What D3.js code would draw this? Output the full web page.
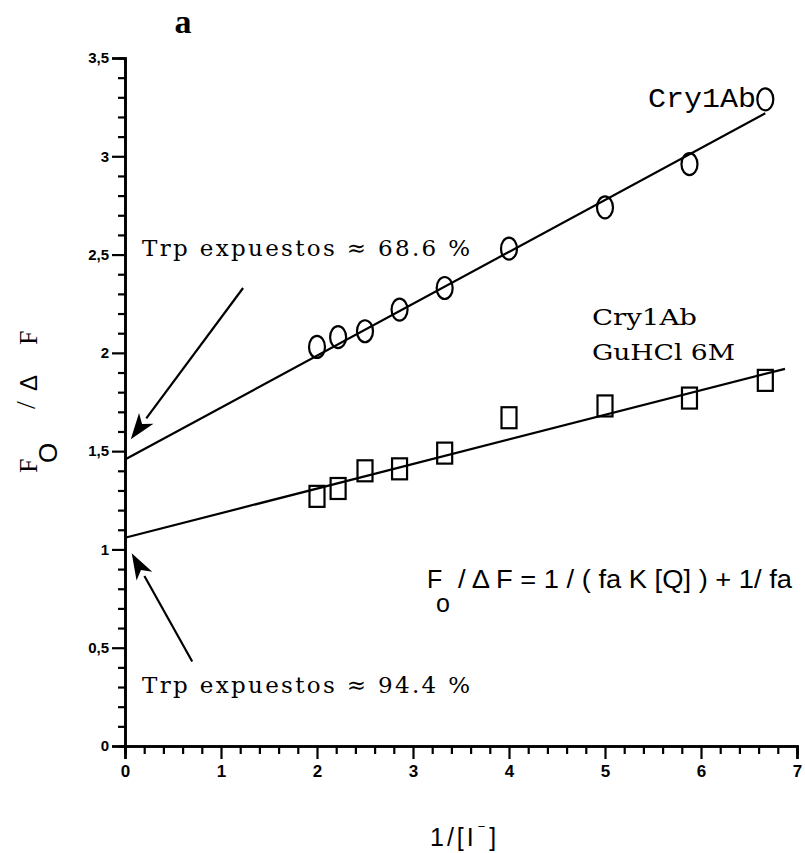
<!DOCTYPE html>
<html>
<head>
<meta charset="utf-8">
<script src="https://cdn.jsdelivr.net/npm/d3@7"></script>
<style>
  html, body { margin: 0; padding: 0; background: #fff; }
  svg { display: block; }
</style>
</head>
<body>
<svg id="chart" width="805" height="853"></svg>
<script>
// Stern–Volmer (modified) plot data: 1/[I-] vs F0/ΔF
const xValues = [2, 2.22, 2.5, 2.86, 3.33, 4, 5, 5.88, 6.67];
const nativeValues = [2.03, 2.08, 2.11, 2.22, 2.33, 2.53, 2.74, 2.96, 3.29];   // Cry1Ab
const denaturedValues = [1.27, 1.31, 1.40, 1.41, 1.49, 1.67, 1.73, 1.77, 1.86]; // Cry1Ab GuHCl 6M

// Fitted lines: intercept = 1/fa
const nativeFa = 0.686;
const denaturedFa = 0.944;
const nativeSlope = 0.264;
const denaturedSlope = 0.125;
const nativeFitEnd = 6.67;
const denaturedFitEnd = 6.875;

const xTicks = [0, 1, 2, 3, 4, 5, 6, 7];
const yTicks = [0, 0.5, 1, 1.5, 2, 2.5, 3, 3.5];
const yTickLabels = ["0", "0,5", "1", "1,5", "2", "2,5", "3", "3,5"];

const svg = d3.select("#chart");
const x = d3.scaleLinear().domain([0, 7]).range([125, 797]);
const y = d3.scaleLinear().domain([0, 3.5]).range([746, 58]);

const ink = "#000";
const serif = "'DejaVu Serif', 'Liberation Serif', serif";
const times = "'Liberation Serif', serif";
const sans = "'Liberation Sans', Arial, sans-serif";

// ---- axes ----
const xAxis = d3.axisBottom(x)
  .tickValues(xTicks)
  .tickFormat(d3.format("d"))
  .tickSize(13)
  .tickPadding(4);
const xMinor = d3.axisBottom(x)
  .tickValues(d3.range(0, 7.001, 0.2).filter(v => Math.abs(v - Math.round(v)) > 1e-6))
  .tickFormat("")
  .tickSize(8);

const yAxis = d3.axisLeft(y)
  .tickValues(yTicks)
  .tickFormat((d, i) => yTickLabels[i])
  .tickSize(13)
  .tickPadding(3);
const yMinor = d3.axisLeft(y)
  .tickValues(d3.range(0, 3.501, 0.1).filter(v => Math.abs(v * 2 - Math.round(v * 2)) > 1e-6))
  .tickFormat("")
  .tickSize(7);

function styleAxis(g, size) {
  g.select(".domain").attr("stroke", ink).attr("stroke-width", 2.6);
  g.selectAll(".tick line").attr("stroke", ink).attr("stroke-width", 2.2);
  g.selectAll(".tick text")
    .attr("fill", ink)
    .attr("font-family", sans)
    .attr("font-weight", "bold")
    .attr("font-size", size || 14);
}

svg.append("g").attr("transform", `translate(0,${y(0)})`).call(xMinor).call(styleAxis);
svg.append("g").attr("transform", `translate(0,${y(0)})`).call(xAxis).call(styleAxis, 17)
  .selectAll(".tick text").attr("dy", "0.85em");
svg.append("g").attr("transform", `translate(${x(0)},0)`).call(yMinor).call(styleAxis);
svg.append("g").attr("transform", `translate(${x(0)},0)`).call(yAxis).call(styleAxis, 15);

// ---- fitted lines ----
const fitLines = [
  { a: 1 / nativeFa, b: nativeSlope, end: nativeFitEnd },
  { a: 1 / denaturedFa, b: denaturedSlope, end: denaturedFitEnd }
];
svg.selectAll("line.fit").data(fitLines).enter().append("line")
  .attr("class", "fit")
  .attr("x1", x(0)).attr("y1", d => y(d.a))
  .attr("x2", d => x(d.end)).attr("y2", d => y(d.a + d.b * d.end))
  .attr("stroke", ink).attr("stroke-width", 2.2);

// ---- markers ----
svg.selectAll("ellipse.native").data(xValues).enter().append("ellipse")
  .attr("class", "native")
  .attr("cx", d => x(d)).attr("cy", (d, i) => y(nativeValues[i]))
  .attr("rx", 8).attr("ry", 11)
  .attr("fill", "none").attr("stroke", ink).attr("stroke-width", 2.2);

svg.selectAll("rect.denat").data(xValues).enter().append("rect")
  .attr("class", "denat")
  .attr("x", d => x(d) - 7.5).attr("y", (d, i) => y(denaturedValues[i]) - 10.5)
  .attr("width", 15).attr("height", 21)
  .attr("fill", "none").attr("stroke", ink).attr("stroke-width", 2.2);

// ---- arrows ----
const arrows = [
  { from: [1.23, 2.33], to: [0.06, 1.56] },
  { from: [0.70, 0.43], to: [0.07, 0.98] }
];
arrows.forEach(a => {
  const x1 = x(a.from[0]), y1 = y(a.from[1]);
  const x2 = x(a.to[0]), y2 = y(a.to[1]);
  const ang = Math.atan2(y2 - y1, x2 - x1);
  const hl = 26, hw = 9;
  const bx = x2 - hl * Math.cos(ang), by = y2 - hl * Math.sin(ang);
  svg.append("line")
    .attr("x1", x1).attr("y1", y1).attr("x2", bx).attr("y2", by)
    .attr("stroke", ink).attr("stroke-width", 2.2);
  const px = -Math.sin(ang), py = Math.cos(ang);
  svg.append("path")
    .attr("d", `M${x2},${y2}L${bx + hw * px},${by + hw * py}L${bx + 7 * Math.cos(ang)},${by + 7 * Math.sin(ang)}L${bx - hw * px},${by - hw * py}Z`)
    .attr("fill", ink);
});

// ---- text ----
svg.append("text").attr("x", 183).attr("y", 33)
  .attr("font-family", times).attr("font-weight", "bold")
  .attr("font-size", 34).attr("text-anchor", "middle").text("a");

svg.append("text").attr("x", 648).attr("y", 107)
  .attr("font-family", "'Liberation Mono', monospace").attr("font-size", 27)
  .attr("textLength", 108).attr("lengthAdjust", "spacingAndGlyphs")
  .text("Cry1Ab");

svg.append("text").attr("x", 142).attr("y", 256)
  .attr("font-family", serif).attr("font-size", 23)
  .attr("textLength", 328).attr("lengthAdjust", "spacing")
  .text("Trp expuestos ≈ 68.6 %");

svg.append("text").attr("x", 142).attr("y", 693)
  .attr("font-family", serif).attr("font-size", 23)
  .attr("textLength", 328).attr("lengthAdjust", "spacing")
  .text("Trp expuestos ≈ 94.4 %");

svg.append("text").attr("x", 592).attr("y", 325)
  .attr("font-family", serif).attr("font-size", 22)
  .attr("textLength", 105).attr("lengthAdjust", "spacingAndGlyphs").text("Cry1Ab");
svg.append("text").attr("x", 592).attr("y", 360)
  .attr("font-family", serif).attr("font-size", 22)
  .attr("textLength", 143).attr("lengthAdjust", "spacingAndGlyphs").text("GuHCl 6M");

// equation
const eqFont = 25;
svg.append("text").attr("x", 427).attr("y", 588)
  .attr("font-family", sans).attr("font-size", eqFont).text("F");
svg.append("text").attr("x", 436).attr("y", 612)
  .attr("font-family", sans).attr("font-size", eqFont).text("o");
svg.append("text").attr("x", 458).attr("y", 588)
  .attr("font-family", sans).attr("font-size", eqFont)
  .attr("textLength", 334).attr("lengthAdjust", "spacingAndGlyphs")
  .text("/ Δ F = 1 / ( fa K [Q] ) + 1/ fa");

// y axis title (rotated, read bottom to top)
const yt = svg.append("g").attr("transform", "translate(37,473) rotate(-90)");
yt.append("text").attr("x", 0).attr("y", 0)
  .attr("font-family", times).attr("font-size", 26).text("F");
yt.append("text").attr("x", 10).attr("y", 20)
  .attr("font-family", sans).attr("font-size", 26).text("O");
yt.append("text").attr("x", 64).attr("y", -2)
  .attr("font-family", times).attr("font-size", 28).text("/");
yt.append("text").attr("x", 82).attr("y", 0)
  .attr("font-family", sans).attr("font-size", 24).text("Δ");
yt.append("text").attr("x", 128).attr("y", 0)
  .attr("font-family", times).attr("font-size", 26).text("F");

// x axis title
const xt = svg.append("text").attr("x", 430).attr("y", 846)
  .attr("font-family", sans).attr("font-size", 25).attr("letter-spacing", 3);
xt.append("tspan").text("1/[I");
xt.append("tspan").attr("font-size", 13).attr("dy", -15).attr("dx", 1).text("−");
xt.append("tspan").attr("dy", 15).attr("dx", 1).text("]");
</script>
</body>
</html>
